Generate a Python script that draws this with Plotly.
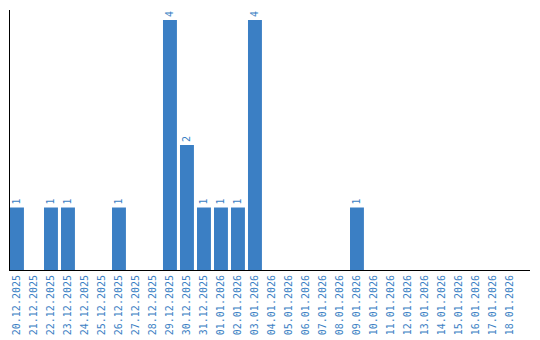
import plotly.graph_objects as go

dates = ["20.12.2025","21.12.2025","22.12.2025","23.12.2025","24.12.2025","25.12.2025",
         "26.12.2025","27.12.2025","28.12.2025","29.12.2025","30.12.2025","31.12.2025",
         "01.01.2026","02.01.2026","03.01.2026","04.01.2026","05.01.2026","06.01.2026",
         "07.01.2026","08.01.2026","09.01.2026","10.01.2026","11.01.2026","12.01.2026",
         "13.01.2026","14.01.2026","15.01.2026","16.01.2026","17.01.2026","18.01.2026"]
counts = [1,0,1,1,0,0,1,0,0,4,2,1,1,1,4,0,0,0,0,0,1,0,0,0,0,0,0,0,0,0]

labels = [str(v) if v else "" for v in counts]
color = "#3b7fc4"
fnt = "DejaVu Sans Mono"

fig = go.Figure(go.Bar(
    x=dates, y=counts, marker_color=color, marker_line_width=0,
    text=labels, textposition="outside", textangle=-90,
    textfont=dict(color=color, size=10, family=fnt),
    cliponaxis=False,
))
fig.update_layout(
    width=540, height=340,
    margin=dict(l=10, r=10, t=10, b=70, pad=0),
    plot_bgcolor="white", paper_bgcolor="white",
    bargap=0.18, showlegend=False,
    font=dict(family=fnt, color=color, size=10),
)
fig.update_xaxes(type="category", tickangle=-90, showline=True, linecolor="black",
                 linewidth=1, ticks="", showgrid=False, range=[-0.41, 30.18],
                 automargin=False,
                 tickfont=dict(color=color, size=10, family=fnt))
fig.update_yaxes(range=[0, 4.16], showline=True, linecolor="black", linewidth=1,
                 showticklabels=False, ticks="", showgrid=False, zeroline=False,
                 automargin=False)
fig.write_html("out.html")
